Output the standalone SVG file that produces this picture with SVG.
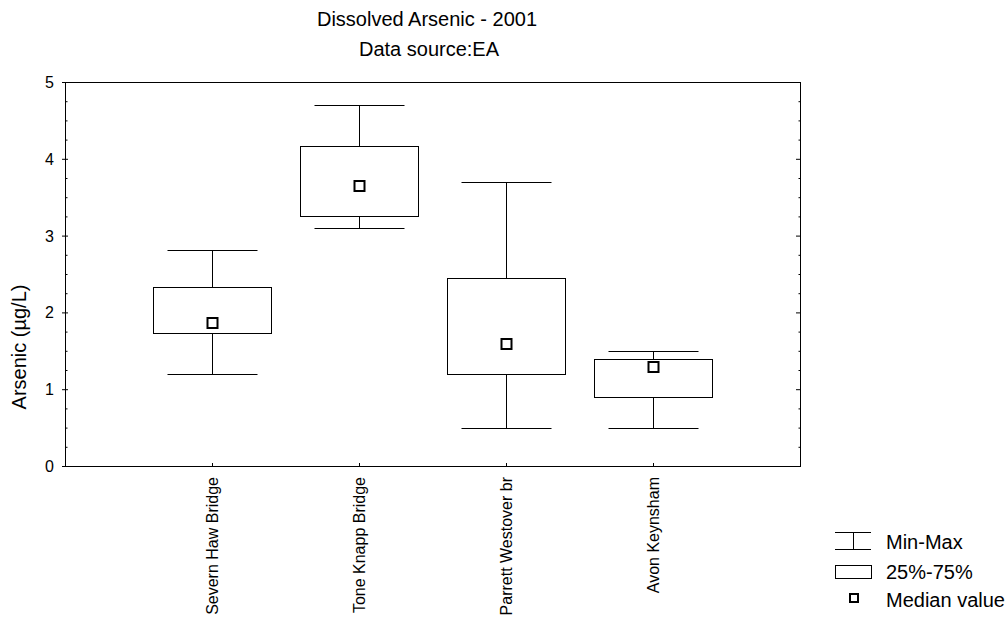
<svg xmlns="http://www.w3.org/2000/svg" width="1008" height="619" viewBox="0 0 1008 619">
<style>
text{font-family:"Liberation Sans",Arial,sans-serif;fill:#000}
.t{font-size:20px;text-anchor:middle}
.tk{font-size:16px;text-anchor:end}
.xl{font-size:16px;text-anchor:end}
.lg{font-size:20px}
.ln{stroke:#000;stroke-width:1;fill:none}
.box{stroke:#000;stroke-width:1;fill:#fff}
.med{stroke:#000;stroke-width:2;fill:#fff}
</style>
<rect width="1008" height="619" fill="#fff"/>
<g id="title">
<text class="t" x="427" y="26">Dissolved Arsenic - 2001</text>
<text class="t" x="429" y="56">Data source:EA</text>
</g>
<g id="axes">
<rect class="ln" x="65.5" y="82.5" width="735" height="384"/>
<path class="ln" d="M62 82.5H68M62 159.3H68M62 236.1H68M62 312.9H68M62 389.7H68M62 466.5H68
M65 101.7H67.5M65 120.9H67.5M65 140.1H67.5M65 178.5H67.5M65 197.7H67.5M65 216.9H67.5M65 255.3H67.5M65 274.5H67.5M65 293.7H67.5M65 332.1H67.5M65 351.3H67.5M65 370.5H67.5M65 408.9H67.5M65 428.1H67.5M65 447.3H67.5
M796 159.3H800M796 236.1H800M796 312.9H800M796 389.7H800
M798.5 101.7H800M798.5 120.9H800M798.5 140.1H800M798.5 178.5H800M798.5 197.7H800M798.5 216.9H800M798.5 255.3H800M798.5 274.5H800M798.5 293.7H800M798.5 332.1H800M798.5 351.3H800M798.5 370.5H800M798.5 408.9H800M798.5 428.1H800M798.5 447.3H800
M212.5 463V467M359.5 463V467M506.5 463V467M653.5 463V467"/>
<text class="tk" x="54" y="88">5</text>
<text class="tk" x="54" y="165">4</text>
<text class="tk" x="54" y="242">3</text>
<text class="tk" x="54" y="318">2</text>
<text class="tk" x="54" y="395">1</text>
<text class="tk" x="54" y="472">0</text>
<text class="t" transform="translate(26 347) rotate(-90)">Arsenic (µg/L)</text>
<text class="xl" transform="translate(218 477) rotate(-90)">Severn Haw Bridge</text>
<text class="xl" transform="translate(365 477) rotate(-90)">Tone Knapp Bridge</text>
<text class="xl" transform="translate(512 477) rotate(-90)">Parrett Westover br</text>
<text class="xl" transform="translate(659 477) rotate(-90)">Avon Keynsham</text>
</g>
<g id="connectors">
<path class="ln" d="M167.5 250.5H257.5M212.5 250.5V287.5M212.5 333.5V374.5M167.5 374.5H257.5"/>
<path class="ln" d="M314.5 105.5H404.5M359.5 105.5V146.5M359.5 216.5V228.5M314.5 228.5H404.5"/>
<path class="ln" d="M461.5 182.5H551.5M506.5 182.5V278.5M506.5 374.5V428.5M461.5 428.5H551.5"/>
<path class="ln" d="M608.5 351.5H698.5M653.5 351.5V359.5M653.5 397.5V428.5M608.5 428.5H698.5"/>
</g>
<g id="severn">
<rect class="box" x="153.5" y="287.5" width="118" height="46"/>
<rect class="med" x="207.5" y="318" width="10" height="10"/>
</g>
<g id="tone">
<rect class="box" x="300.5" y="146.5" width="118" height="70"/>
<rect class="med" x="354.5" y="181" width="10" height="10"/>
</g>
<g id="parrett">
<rect class="box" x="447.5" y="278.5" width="118" height="96"/>
<rect class="med" x="501.5" y="339" width="10" height="10"/>
</g>
<g id="avon">
<rect class="box" x="594.5" y="359.5" width="118" height="38"/>
<rect class="med" x="648.5" y="362" width="10" height="10"/>
</g>
<g id="legend">
<path class="ln" d="M835 532.5H871M835 549.5H871M853.5 532.5V549.5"/>
<text class="lg" x="886" y="549">Min-Max</text>
<rect class="box" x="835.5" y="565.5" width="36" height="13"/>
<text class="lg" x="886" y="579">25%-75%</text>
<rect class="med" x="850" y="594" width="8" height="8"/>
<text class="lg" x="886" y="607">Median value</text>
</g>
</svg>
